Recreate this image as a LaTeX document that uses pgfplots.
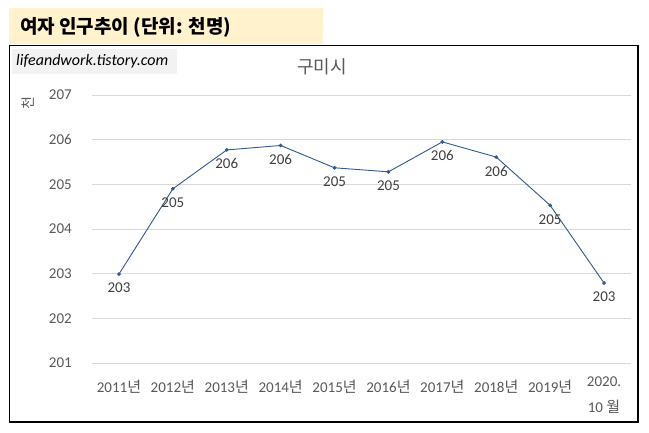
\documentclass[border=0pt]{standalone}
\usepackage{fontspec}
\setmainfont{Carlito}
\newfontfamily\kr{Noto Sans CJK KR}
\usepackage{pgfplots}
\pgfplotsset{compat=1.18}
\definecolor{linec}{HTML}{2F5B8E}
\definecolor{gridc}{HTML}{D9D9D9}
\definecolor{tickc}{HTML}{595959}
\definecolor{labc}{HTML}{404040}
\definecolor{titlebg}{HTML}{FFF2CC}
\definecolor{wmbg}{HTML}{F2F2F2}
\begin{document}
\begin{tikzpicture}[x=1pt,y=1pt]
\useasboundingbox (0,0) rectangle (649,433);
\fill[white] (0,0) rectangle (649,433);
\fill[titlebg] (9,389) rectangle (323,425);
\node[anchor=west, inner sep=0pt, font=\kr\bfseries\fontsize{19}{22}\selectfont] at (20,406) {여자 인구추이 (단위: 천명)};
\fill[wmbg] (12,359) rectangle (177,384);
\node[anchor=west, inner sep=0pt, font=\itshape\fontsize{16}{18}\selectfont] at (16,371.5) {lifeandwork.tistory.com};
\node[font=\kr\fontsize{18}{20}\selectfont, text=tickc] at (322,366) {구미시};
\node[rotate=90, font=\kr\fontsize{14}{16}\selectfont, text=tickc] at (28,330) {천};
\begin{axis}[
  at={(92pt,70pt)}, anchor=south west,
  scale only axis, width=539pt, height=268pt,
  xmin=-0.5, xmax=9.5, ymin=201, ymax=207,
  ytick={201,202,203,204,205,206,207},
  xtick={0,1,2,3,4,5,6,7,8,9},
  xticklabels={2011{\kr 년},2012{\kr 년},2013{\kr 년},2014{\kr 년},2015{\kr 년},2016{\kr 년},2017{\kr 년},2018{\kr 년},2019{\kr 년},{\raisebox{6pt}{\begin{tabular}[t]{@{}c@{}}2020.\\[8pt]10 {\kr 월}\end{tabular}}}},
  axis line style={draw=none},
  tick style={draw=none},
  ymajorgrids,
  grid style={gridc, line width=0.9pt},
  /pgf/number format/assume math mode=true,
  yticklabel style={anchor=east, inner sep=0pt, xshift=-20pt, text=tickc, font=\fontsize{15}{17}\selectfont},
  xticklabel style={anchor=base, inner sep=0pt, yshift=-30pt, text=tickc, font=\fontsize{15}{17}\selectfont},
  clip=false,
  nodes near coords={\pgfmathprintnumber[fixed,precision=0]{\pgfplotspointmeta}},
  point meta=y,
  nodes near coords style={anchor=center, yshift=-14pt, text=labc, font=\fontsize{15}{17}\selectfont},
]
\addplot[linec, line width=0.9pt, mark=*, mark size=1.4pt, mark options={fill=linec, draw=linec}] coordinates {
(0,202.99) (1,204.90) (2,205.77) (3,205.87) (4,205.37) (5,205.28) (6,205.95) (7,205.61) (8,204.53) (9,202.79)
};
\end{axis}
\draw[black, line width=1.3pt] (9.5,11) rectangle (638,387.5);
\end{tikzpicture}
\end{document}
